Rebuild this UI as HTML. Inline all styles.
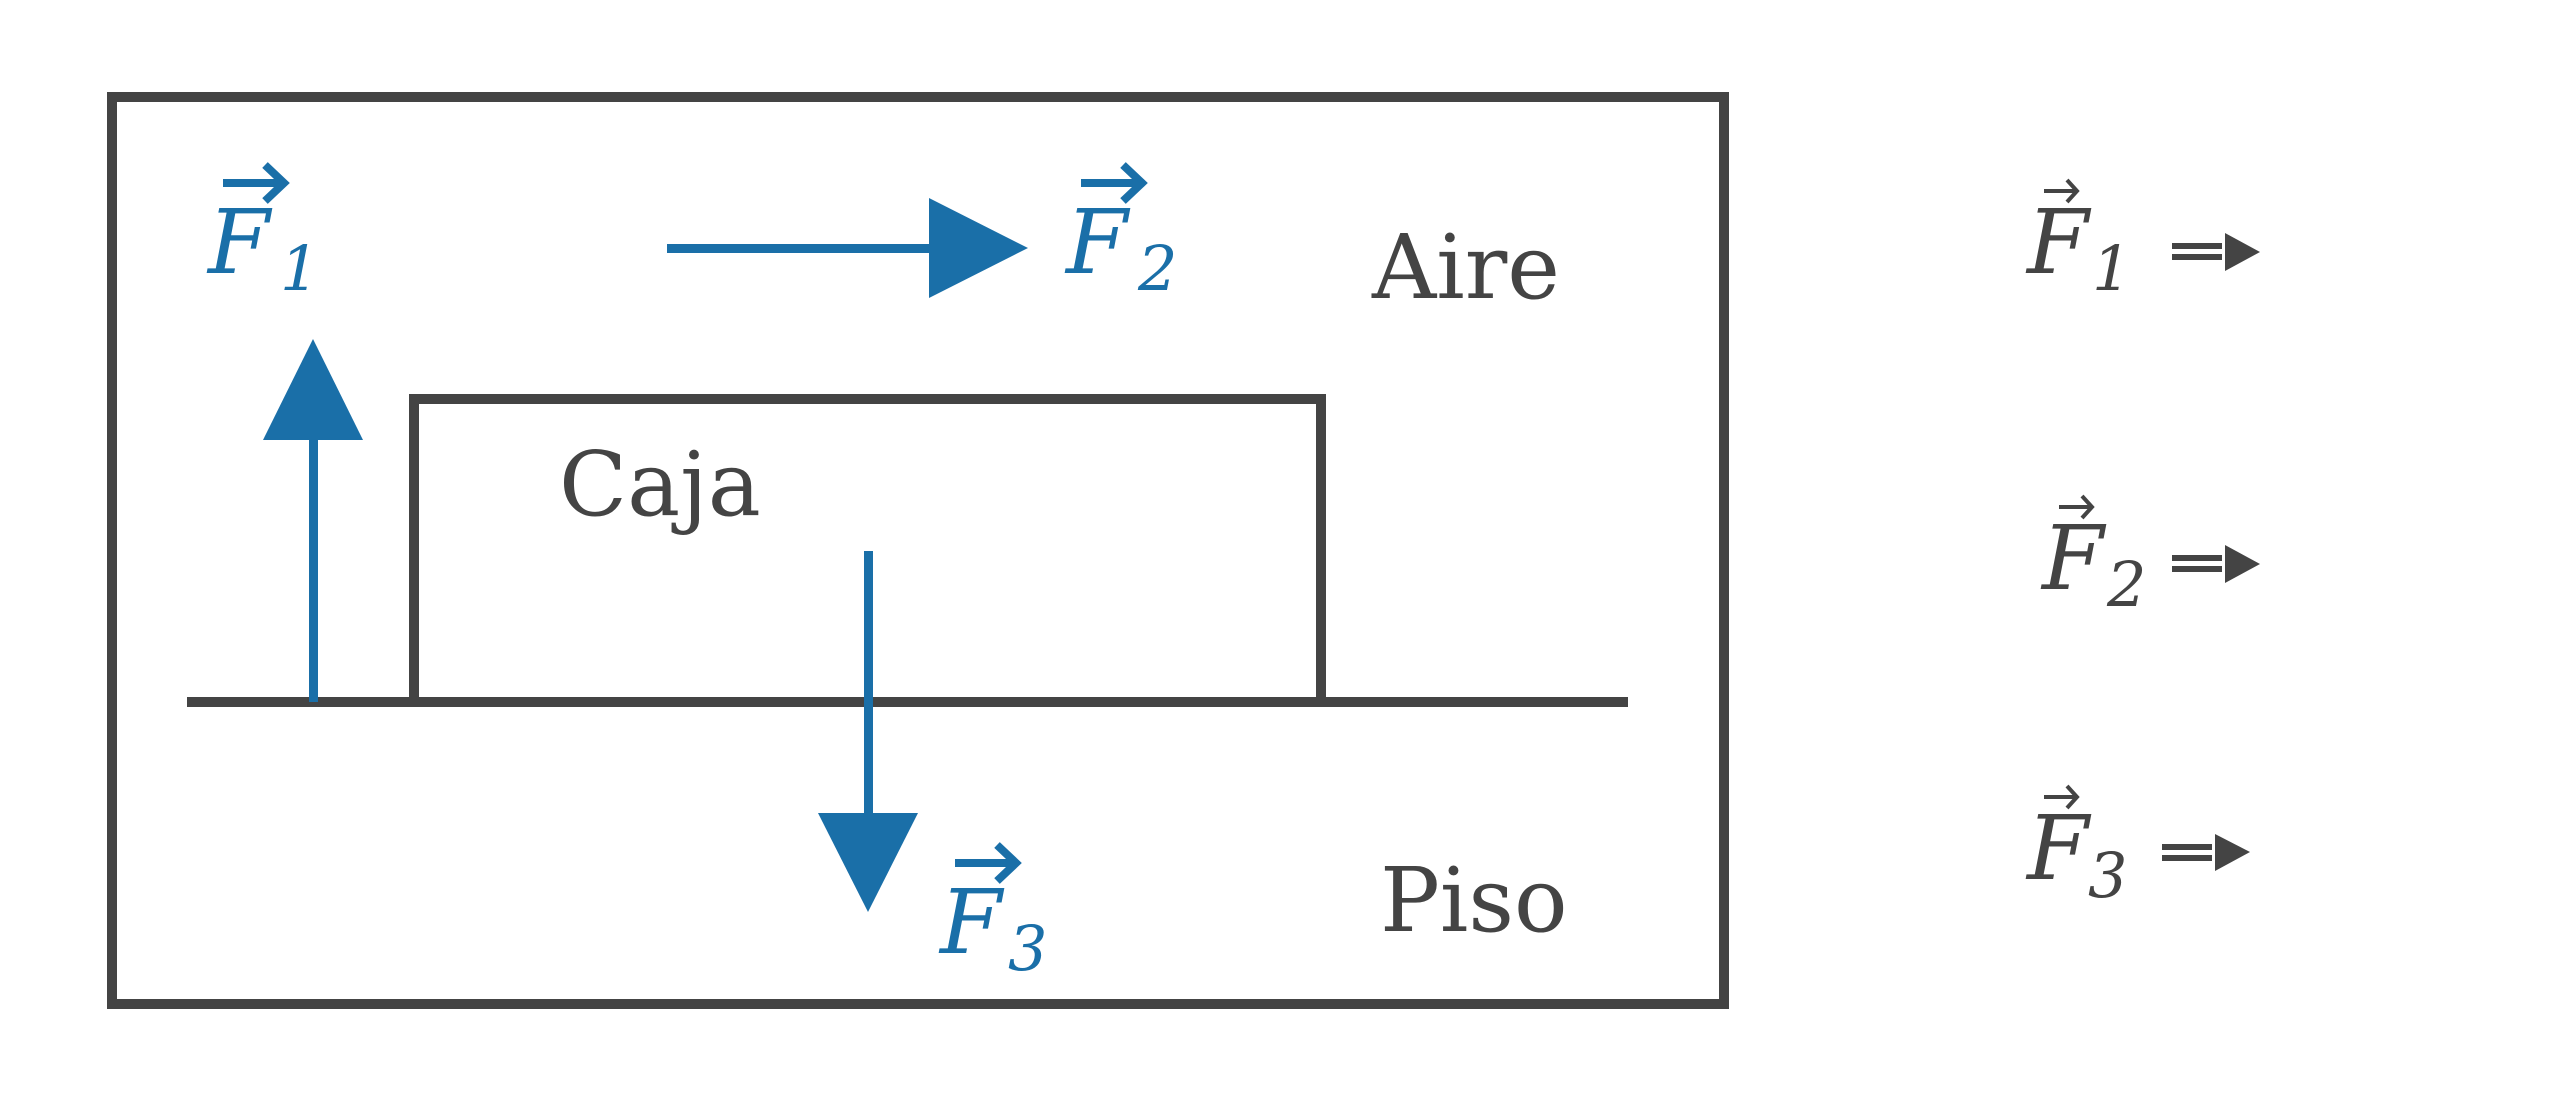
<!DOCTYPE html>
<html><head><meta charset="utf-8"><style>html,body{margin:0;padding:0;background:#fff}svg{display:block}</style></head><body>
<svg width="2560" height="1113" viewBox="0 0 2560 1113" xmlns="http://www.w3.org/2000/svg">
<g fill="none" stroke="#444" stroke-width="10">
<rect x="112" y="97" width="1612" height="907"/>
<rect x="414" y="399" width="907" height="303"/>
<line x1="187" y1="702" x2="1628" y2="702"/>
</g>
<g fill="#1a6fa8" stroke="none">
<rect x="309" y="438" width="9" height="264"/>
<polygon points="313,339 263,440 363,440"/>
<rect x="667" y="244" width="264" height="9"/>
<polygon points="1028,248 929,198 929,298"/>
<rect x="864" y="551" width="9" height="264"/>
<polygon points="868,912 818,813 918,813"/>
</g>
<g font-family="DejaVu Serif, Liberation Serif, serif" font-size="89" fill="#444">
<text x="1372" y="298">Aire</text>
<text x="559" y="515">Caja</text>
<text x="1380" y="931">Piso</text>
</g>
<g font-family="DejaVu Serif, Liberation Serif, serif" font-style="italic" fill="#1a6fa8">
<text x="208" y="273" font-size="89">F</text><text x="280" y="290" font-size="62">1</text>
<text x="1066" y="273" font-size="89">F</text><text x="1138" y="290" font-size="62">2</text>
<text x="940" y="953" font-size="89">F</text><text x="1008" y="970" font-size="62">3</text>
</g>
<g stroke="#1a6fa8" stroke-width="8" fill="none">
<path d="M223,183 H284 M265,165 L284,183 L265,201"/>
<path d="M1081,183 H1142 M1123,165 L1142,183 L1123,201"/>
<path d="M955,863 H1016 M997,845 L1016,863 L997,881"/>
</g>
<g font-family="DejaVu Serif, Liberation Serif, serif" font-style="italic" fill="#444">
<text x="2027" y="273" font-size="89">F</text><text x="2092" y="290" font-size="62">1</text>
<text x="2042" y="589" font-size="89">F</text><text x="2107" y="606" font-size="62">2</text>
<text x="2027" y="879" font-size="89">F</text><text x="2088" y="897" font-size="62">3</text>
</g>
<g stroke="#444" stroke-width="4" fill="none">
<path d="M2044,191 H2077 M2067,180 L2077,191 L2067,202"/>
<path d="M2059,507 H2092 M2082,496 L2092,507 L2082,518"/>
<path d="M2044,797 H2077 M2067,786 L2077,797 L2067,808"/>
</g>
<g fill="#444">
<rect x="2172" y="243" width="50" height="6"/><rect x="2172" y="254" width="50" height="6"/>
<polygon points="2225,233 2260,252 2225,271"/>
<rect x="2172" y="555" width="50" height="6"/><rect x="2172" y="566" width="50" height="6"/>
<polygon points="2225,545 2260,564 2225,583"/>
<rect x="2162" y="844" width="50" height="6"/><rect x="2162" y="855" width="50" height="6"/>
<polygon points="2215,834 2250,852 2215,871"/>
</g>
</svg>
</body></html>
